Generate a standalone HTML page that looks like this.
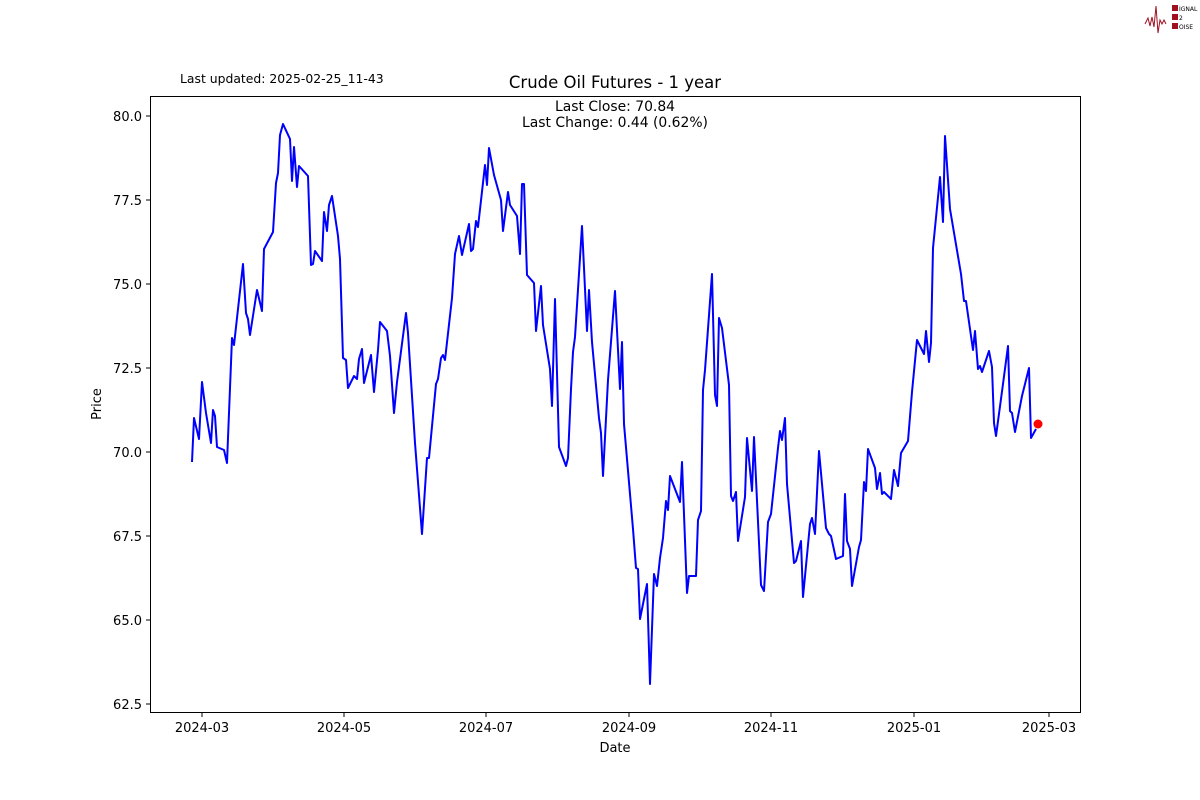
<!DOCTYPE html>
<html><head><meta charset="utf-8"><style>body{margin:0;background:#fff}svg{display:block}text{font-family:"DejaVu Sans","Liberation Sans",sans-serif;fill:#000}</style></head><body>
<svg width="1200" height="800" viewBox="0 0 1200 800" xmlns="http://www.w3.org/2000/svg">
<rect width="1200" height="800" fill="#fff"/>
<text x="180" y="83" font-size="12.4">Last updated: 2025-02-25_11-43</text>
<text x="615" y="88" font-size="16.5" text-anchor="middle">Crude Oil Futures - 1 year</text>
<text x="615" y="111" font-size="13.9" text-anchor="middle">Last Close: 70.84</text>
<text x="615" y="127" font-size="13.9" text-anchor="middle">Last Change: 0.44 (0.62%)</text>
<rect x="150.5" y="96.5" width="930" height="616" fill="none" stroke="#000" stroke-width="1"/>
<g stroke="#000" stroke-width="1">
<line x1="146" y1="116" x2="150" y2="116"/><line x1="146" y1="200" x2="150" y2="200"/><line x1="146" y1="284" x2="150" y2="284"/><line x1="146" y1="368" x2="150" y2="368"/><line x1="146" y1="452" x2="150" y2="452"/><line x1="146" y1="536" x2="150" y2="536"/><line x1="146" y1="620" x2="150" y2="620"/><line x1="146" y1="704" x2="150" y2="704"/>
<line x1="202" y1="713" x2="202" y2="717"/><line x1="344" y1="713" x2="344" y2="717"/><line x1="486" y1="713" x2="486" y2="717"/><line x1="629" y1="713" x2="629" y2="717"/><line x1="771" y1="713" x2="771" y2="717"/><line x1="914" y1="713" x2="914" y2="717"/><line x1="1049" y1="713" x2="1049" y2="717"/>
</g>
<g font-size="13" text-anchor="end">
<text x="142" y="121">80.0</text><text x="142" y="205">77.5</text><text x="142" y="289">75.0</text><text x="142" y="373">72.5</text><text x="142" y="457">70.0</text><text x="142" y="541">67.5</text><text x="142" y="625">65.0</text><text x="142" y="709">62.5</text>
</g>
<g font-size="13" text-anchor="middle">
<text x="202" y="732">2024-03</text><text x="344" y="732">2024-05</text><text x="486" y="732">2024-07</text><text x="629" y="732">2024-09</text><text x="771" y="732">2024-11</text><text x="914" y="732">2025-01</text><text x="1049" y="732">2025-03</text>
<text x="615" y="752">Date</text>
<text transform="translate(101,404) rotate(-90)">Price</text>
</g>
<polyline fill="none" stroke="#0000ff" stroke-width="2" stroke-linejoin="round" points="192,462 194,418 199,439 202,382 206,413 211,443 213,410 215,416 217,447 224,450 227,463 232,338 234,345 243,264 246,313 248,319 250,335 257,290 262,311 264,249 273,232 276,183 278,173 280,135 283,124 290,139 292,181 294,147 297,187 299,166 308,176 311,265 313,264 315,251 322,261 324,212 327,231 329,205 332,196 338,236 340,259 343,358 346,360 348,388 354,376 357,379 359,359 362,349 364,383 371,355 374,392 378,350 380,322 387,331 390,356 394,413 397,382 406,313 408,333 415,443 422,534 427,458 429,458 436,384 438,379 441,358 443,355 445,360 452,298 455,254 459,236 462,255 469,224 471,251 473,249 476,221 478,227 485,165 487,185 489,148 494,175 501,200 503,231 508,192 510,205 517,216 520,254 522,184 524,184 527,275 534,283 536,331 541,286 543,325 550,369 552,406 555,299 559,447 566,466 568,458 571,389 573,352 575,337 582,226 587,331 589,290 592,342 599,418 601,433 603,476 608,380 615,291 620,389 622,342 624,424 633,529 636,568 638,569 640,619 647,584 650,684 654,574 657,586 660,558 663,538 666,501 668,510 670,476 680,502 682,462 687,593 689,576 696,576 698,520 701,511 703,390 705,370 712,274 715,395 717,406 719,318 722,328 729,385 731,496 733,501 736,492 738,541 745,497 747,438 752,491 754,437 761,585 764,591 768,522 771,514 778,448 780,431 782,440 785,418 787,484 794,563 796,561 801,541 803,597 810,524 812,518 815,534 819,451 826,528 829,534 831,536 836,559 843,556 845,494 847,541 850,549 852,586 859,547 861,540 864,482 866,491 868,449 875,468 877,489 880,473 882,494 884,492 891,499 894,470 898,486 901,453 908,441 912,392 917,340 924,354 926,331 929,362 931,343 933,248 940,177 943,222 945,136 950,209 961,274 964,301 966,301 973,350 975,331 978,369 980,366 982,372 989,351 992,367 994,423 996,436 1003,384 1008,346 1010,411 1012,413 1015,432 1022,396 1029,368 1031,438 1036,429"/>
<circle cx="1038" cy="424" r="4.5" fill="#ff0000"/>
<g>
<polyline fill="none" stroke="#a01020" stroke-width="1" points="1145,24 1148,18 1150,26 1152,17 1154,27 1156,6 1158,33 1160,20 1162,24 1164,20 1166,24"/>
<rect x="1172" y="5" width="6" height="6" fill="#a01020"/><rect x="1172" y="14" width="6" height="6" fill="#a01020"/><rect x="1172" y="23" width="6" height="6" fill="#a01020"/>
<text x="1179" y="11" font-size="6">IGNAL</text><text x="1179" y="20" font-size="6">2</text><text x="1179" y="29" font-size="6">OISE</text>
</g>
</svg>
</body></html>
